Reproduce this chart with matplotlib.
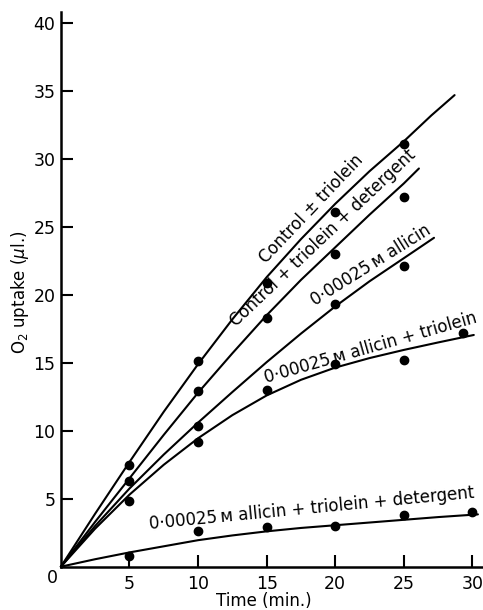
import matplotlib.pyplot as plt

plt.rcParams['font.family'] = ['DejaVu Sans']

# measured points (time in min, O2 uptake in ul)
ctrl_x = [5, 10, 15, 20, 25]
ctrl_y = [7.5, 15.1, 20.9, 26.1, 31.1]
det_x = [5, 10, 15, 20, 25]
det_y = [6.3, 12.9, 18.3, 23.0, 27.2]
all_x = [10, 20, 25]
all_y = [10.35, 19.3, 22.1]
alltri_x = [5, 10, 15, 20, 25, 29.3]
alltri_y = [4.8, 9.2, 13.0, 14.9, 15.2, 17.2]
alldet_x = [5, 10, 15, 20, 25, 30]
alldet_y = [0.75, 2.6, 2.95, 3.0, 3.8, 4.05]

# hand-drawn curves
ctrl_cx = [0, 2.5, 5, 7.5, 10, 12.5, 15, 17.5, 20, 22.5, 25, 27, 28.7]
ctrl_cy = [0, 3.9, 7.7, 11.4, 14.9, 18.2, 21.3, 24.1, 26.7, 29.1, 31.3, 33.2, 34.7]
det_cx = [0, 2.5, 5, 7.5, 10, 12.5, 15, 17.5, 20, 22.5, 25, 26.1]
det_cy = [0, 3.3, 6.5, 9.7, 12.8, 15.7, 18.5, 21.1, 23.5, 25.9, 28.2, 29.3]
all_cx = [0, 2.5, 5, 7.5, 10, 12.5, 15, 17.5, 20, 22.5, 25, 27.2]
all_cy = [0, 3.0, 5.75, 8.25, 10.6, 12.85, 15.05, 17.15, 19.15, 21.0, 22.7, 24.2]
alltri_cx = [0, 2.5, 5, 7.5, 10, 12.5, 15, 17.5, 20, 22.5, 25, 27.5, 30.1]
alltri_cy = [0, 2.8, 5.3, 7.5, 9.45, 11.15, 12.6, 13.75, 14.65, 15.35, 15.95, 16.5, 17.05]
alldet_cx = [0, 2.5, 5, 7.5, 10, 12.5, 15, 17.5, 20, 22.5, 25, 27.5, 30.4]
alldet_cy = [0, 0.55, 1.05, 1.5, 1.95, 2.3, 2.6, 2.85, 3.05, 3.25, 3.45, 3.65, 3.85]

xticks = [5, 10, 15, 20, 25, 30]
yticks = [5, 10, 15, 20, 25, 30, 35, 40]

fig = plt.figure(figsize=(4.83, 6.10), dpi=100)
ax = fig.add_axes([0.126, 0.071, 0.872, 0.909])

for cx, cy, px, py in [(ctrl_cx, ctrl_cy, ctrl_x, ctrl_y),
                       (det_cx, det_cy, det_x, det_y),
                       (all_cx, all_cy, all_x, all_y),
                       (alltri_cx, alltri_cy, alltri_x, alltri_y),
                       (alldet_cx, alldet_cy, alldet_x, alldet_y)]:
    ax.plot(cx, cy, color='black', lw=1.5, solid_joinstyle='round',
            solid_capstyle='round', clip_on=False)
    ax.plot(px, py, 'o', color='black', ms=6, clip_on=False)

# curve labels
fs = 12
kw = dict(rotation_mode='anchor', ha='center', va='center', fontsize=fs)
ax.text(18.25, 26.3, 'Control \u00b1 triolein', rotation=46.5, **kw)
ax.text(19.1, 24.2, 'Control + triolein + detergent', rotation=43.5, **kw)
ax.text(22.6, 22.2, '0\u00b700025\u2009\u1d0d allicin', rotation=32, **kw)
ax.text(22.6, 16.1, '0\u00b700025\u2009\u1d0d allicin + triolein', rotation=16, **kw)
ax.text(18.25, 4.3, '0\u00b700025\u2009\u1d0d allicin + triolein + detergent',
        rotation=5.5, **kw)

ax.set_xlim(0, 30.7)
ax.set_ylim(0, 40.8)
ax.set_xticks(xticks)
ax.set_yticks(yticks)
ax.tick_params(direction='in', length=8.5, width=1.5, labelsize=12.5, pad=6)
ax.tick_params(axis='y', pad=4)
for s in ['top', 'right']:
    ax.spines[s].set_visible(False)
for s in ['left', 'bottom']:
    ax.spines[s].set_linewidth(1.8)

ax.text(-0.6, -0.8, '0', ha='center', va='center', fontsize=12.5, clip_on=False)

ax.set_xlabel('Time (min.)', fontsize=12)
ax.set_ylabel(r'O$_2$ uptake ($\mu$l.)', fontsize=12)
ax.xaxis.set_label_coords(0.482, -0.046)
ax.yaxis.set_label_coords(-0.072, 0.495)

fig.savefig('out.png', dpi=100)
